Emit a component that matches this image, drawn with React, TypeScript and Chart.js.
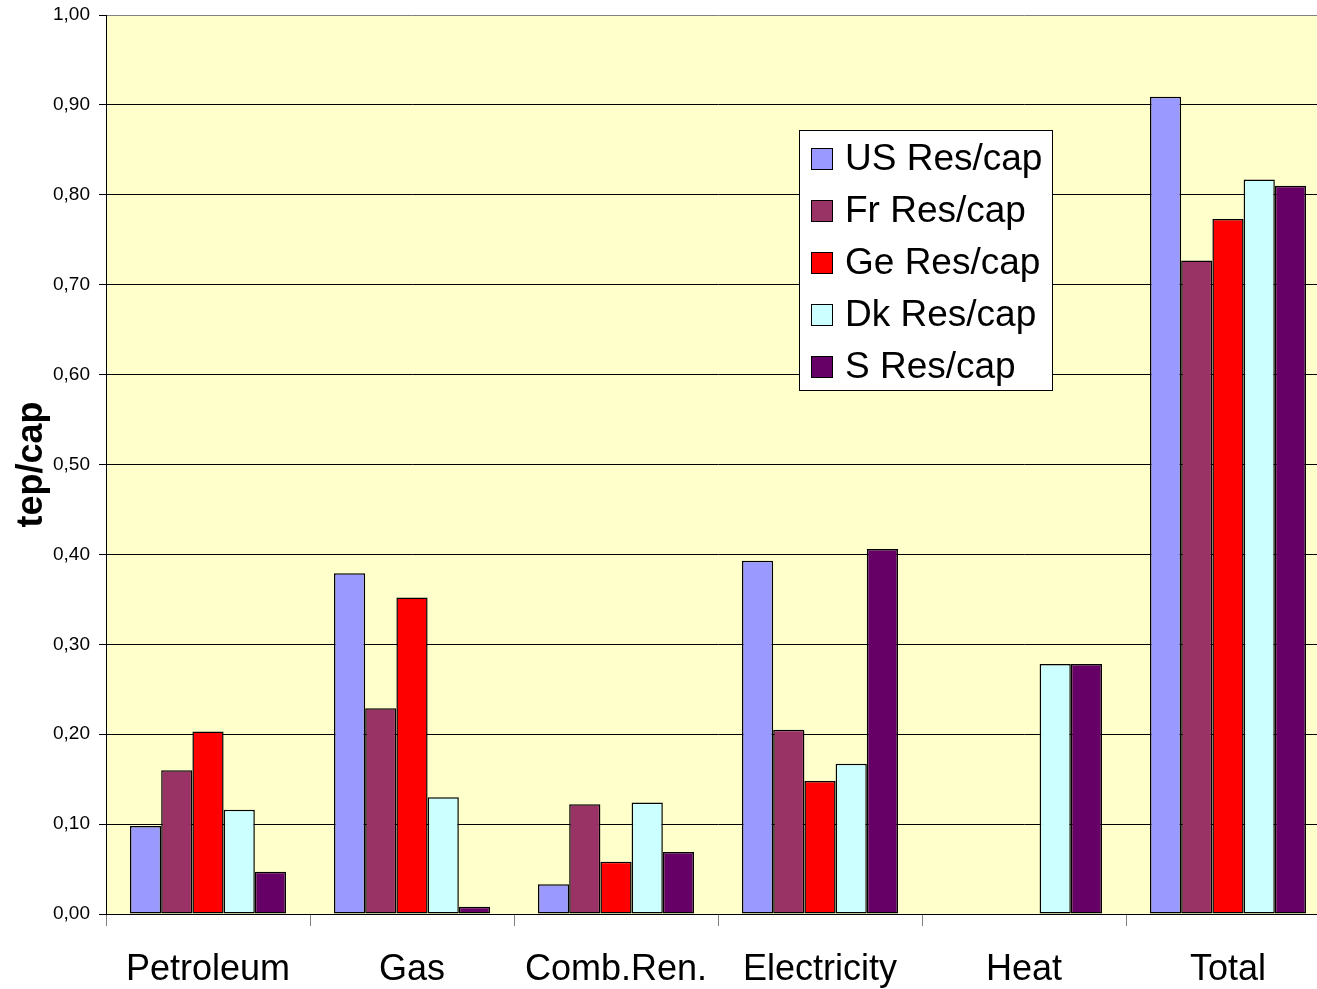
import React, { useEffect, useRef } from "react";
import { Chart, registerables } from "chart.js";

Chart.register(...registerables);

const categories = ["Petroleum", "Gas", "Comb.Ren.", "Electricity", "Heat", "Total"];
const seriesNames = ["US Res/cap", "Fr Res/cap", "Ge Res/cap", "Dk Res/cap", "S Res/cap"];
const usValues = [0.098, 0.379, 0.033, 0.393, null, 0.909];
const frValues = [0.16, 0.229, 0.122, 0.205, null, 0.727];
const geValues = [0.203, 0.352, 0.058, 0.148, null, 0.773];
const dkValues = [0.116, 0.13, 0.124, 0.167, 0.278, 0.817];
const sValues = [0.047, 0.008, 0.069, 0.406, 0.278, 0.81];
const seriesColors = ["#9999FF", "#993366", "#FF0000", "#CCFFFF", "#660066"];
const yTitle = "tep/cap";

const FONT = "'Liberation Sans', Arial, sans-serif";

const bgPlugin = {
  id: "plotBg",
  beforeDraw(chart: any) {
    const { ctx, chartArea } = chart;
    ctx.save();
    ctx.fillStyle = "#FFFFCC";
    ctx.fillRect(chartArea.left, chartArea.top, chartArea.right - chartArea.left, chartArea.bottom - chartArea.top);
    ctx.restore();
  },
};

const legendPlugin = {
  id: "boxLegend",
  afterDraw(chart: any) {
    const { ctx } = chart;
    const x = 799.5, y = 130.5, w = 253, h = 260;
    ctx.save();
    ctx.fillStyle = "#FFFFFF";
    ctx.fillRect(x, y, w, h);
    ctx.strokeStyle = "#000000";
    ctx.lineWidth = 1;
    ctx.strokeRect(x, y, w, h);
    ctx.font = `37px ${FONT}`;
    ctx.textBaseline = "middle";
    ctx.textAlign = "left";
    chart.data.datasets.forEach((ds: any, i: number) => {
      const cy = 159 + i * 52;
      ctx.fillStyle = ds.backgroundColor;
      ctx.fillRect(811.5, cy - 11 + 0.5, 21, 21);
      ctx.strokeStyle = "#000000";
      ctx.strokeRect(811.5, cy - 11 + 0.5, 21, 21);
      ctx.fillStyle = "#000000";
      ctx.fillText(ds.label, 845, cy + 1);
    });
    ctx.restore();
  },
};

export default function App() {
  const ref = useRef<HTMLCanvasElement | null>(null);
  useEffect(() => {
    if (!ref.current) return;
    const allValues = [usValues, frValues, geValues, dkValues, sValues];
    const chart = new Chart(ref.current, {
      type: "bar",
      data: {
        labels: categories,
        datasets: seriesNames.map((name, i) => ({
          label: name,
          data: allValues[i],
          backgroundColor: seriesColors[i],
          borderColor: "#000000",
          borderWidth: 1.5,
          borderSkipped: false,
          categoryPercentage: 0.765,
          barPercentage: 1.0,
        })),
      },
      options: {
        responsive: false,
        animation: false,
        layout: { padding: { top: 15, right: 10, left: 0, bottom: 0 } },
        plugins: {
          legend: { display: false },
          tooltip: { enabled: false },
        },
        scales: {
          x: {
            grid: {
              offset: true,
              drawOnChartArea: false,
              drawTicks: true,
              tickLength: 12,
              color: "#808080",
            },
            border: { display: true, color: "#000000", width: 1 },
            ticks: {
              color: "#000000",
              font: { family: FONT, size: 36 },
              padding: 22,
              maxRotation: 0,
              autoSkip: false,
            },
            afterFit(scale: any) {
              scale.height = 75;
              scale.paddingLeft = 0;
              scale.paddingRight = 0;
            },
          },
          y: {
            min: 0,
            max: 1,
            grid: {
              color: (c: any) => (c.tick && c.tick.value === 1 ? "#808080" : "#000000"),
              lineWidth: 1,
              tickLength: 7,
              tickColor: "#000000",
            },
            border: { display: true, color: "#000000", width: 1 },
            ticks: {
              stepSize: 0.1,
              color: "#000000",
              font: { family: FONT, size: 19 },
              padding: 9,
              callback: (v: any) => Number(v).toFixed(2).replace(".", ","),
            },
            title: {
              display: true,
              text: yTitle,
              color: "#000000",
              font: { family: FONT, size: 36, weight: "bold" },
              padding: { top: 10, bottom: 0 },
            },
            afterFit(scale: any) {
              scale.width = 106;
              scale.paddingTop = 0;
              scale.paddingBottom = 0;
            },
          },
        },
      },
      plugins: [bgPlugin, legendPlugin],
    });
    return () => chart.destroy();
  }, []);

  return (
    <div style={{ position: "absolute", left: 0, top: 0, width: 1317, height: 989, overflow: "hidden", background: "#FFFFFF" }}>
      <canvas ref={ref} width={1340} height={989} style={{ display: "block" }} />
    </div>
  );
}
